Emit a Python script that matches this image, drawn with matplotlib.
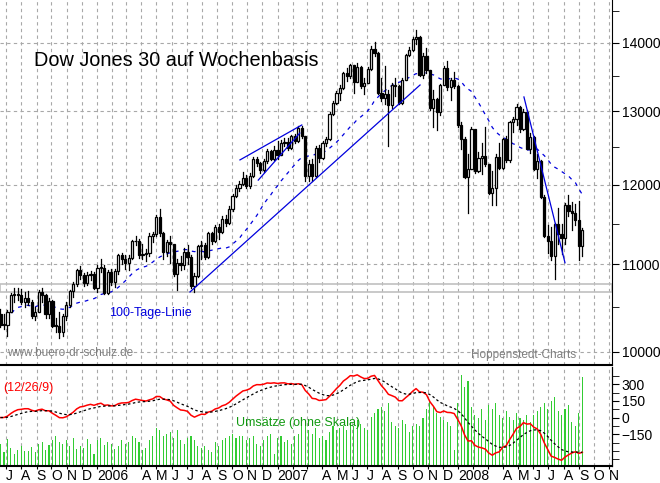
import numpy as np
import pandas as pd
import matplotlib
matplotlib.use('Agg')
import matplotlib.pyplot as plt
import matplotlib.dates as mdates
from matplotlib.ticker import FixedLocator, NullFormatter, FuncFormatter

plt.rcParams['font.family'] = ['Liberation Sans', 'DejaVu Sans']

# weekly DJIA data, week starting 2005-06-20
closes = [10297, 10303, 10449, 10640, 10652, 10641, 10559, 10600, 10559, 10397,
          10447, 10679, 10641, 10420, 10569, 10292, 10287, 10215, 10403, 10530,
          10686, 10766, 10931, 10877, 10779, 10876, 10883, 10718,
          10959, 10960, 10667, 10907, 10794, 10920, 11115, 11062, 11022, 11076,
          11279, 11280, 11109, 11120, 11137, 11347, 11367, 11577, 11380, 11144,
          11278, 11248, 10891, 11015, 10990, 11150, 11091, 10739, 10868, 11220,
          11240, 11089, 11381, 11284, 11464, 11392, 11560, 11508, 11679, 11850,
          11961, 12002, 12090, 11986, 12108, 12342, 12280, 12194, 12307, 12445,
          12343, 12463,
          12398, 12556, 12565, 12487, 12653, 12580, 12767, 12647, 12114, 12276,
          12110, 12481, 12354, 12560, 12612, 12961, 13120, 13265, 13326, 13556,
          13507, 13668, 13424, 13639, 13360, 13409, 13611, 13908, 13851, 13265,
          13182, 13240, 13079, 13379, 13358, 13113, 13442, 13821, 13896, 14066,
          14093, 13522, 13807, 13595, 13042, 13177, 12981, 13372, 13625, 13340,
          13450, 13366,
          12801, 12606, 12099, 12207, 12743, 12182, 12348, 12381, 12266, 11894,
          11951, 12361, 12216, 12609, 12325, 12849, 12891, 13058, 12745, 12986,
          12480, 12638, 12209, 12307, 11843, 11346, 11289, 11100, 11496, 11370,
          11326, 11734, 11659, 11628, 11543, 11220, 11421]
highs = [10480, 10420, 10470, 10660, 10720, 10720, 10710, 10680, 10690, 10580,
         10500, 10700, 10720, 10650, 10600, 10580, 10380, 10450, 10420, 10560,
         10700, 10790, 10940, 10985, 10900, 10910, 10920, 10910,
         10990, 11060, 10990, 10930, 10950, 10950, 11130, 11140, 11110, 11110,
         11300, 11340, 11310, 11250, 11190, 11380, 11400, 11610, 11680, 11400,
         11300, 11340, 11240, 11060, 11100, 11200, 11240, 11110, 10900, 11230,
         11290, 11260, 11400, 11390, 11480, 11500, 11590, 11610, 11720, 11880,
         11990, 12050, 12170, 12120, 12150, 12360, 12360, 12300, 12340, 12470,
         12460, 12510,
         12580, 12590, 12620, 12620, 12670, 12680, 12790, 12790, 12650, 12320,
         12340, 12510, 12530, 12580, 12640, 12980, 13140, 13290, 13370, 13570,
         13620, 13690, 13670, 13700, 13650, 13480, 13640, 13960, 14020, 13860,
         13470, 13660, 13300, 13400, 13480, 13370, 13480, 13830, 13940, 14090,
         14200, 14100, 13850, 13930, 13600, 13300, 13180, 13390, 13650, 13730,
         13480, 13570,
         13370, 12840, 12640, 12400, 12770, 12720, 12430, 12560, 12780, 12270,
         12180, 12400, 12550, 12630, 12650, 12860, 12920, 13100, 13070, 13030,
         13010, 12690, 12650, 12400, 12330, 11860, 11480, 11460, 11510, 11700,
         11500, 11760, 11870, 11780, 11750, 11790, 11450]
lows = [10270, 10250, 10180, 10440, 10560, 10580, 10540, 10500, 10520, 10380,
        10350, 10440, 10560, 10380, 10380, 10270, 10220, 10150, 10180, 10350,
        10500, 10620, 10750, 10830, 10740, 10760, 10810, 10710,
        10680, 10910, 10650, 10650, 10760, 10730, 10890, 11000, 10950, 10930,
        11070, 11230, 11080, 11060, 11040, 11100, 11270, 11350, 11350, 11070,
        11100, 11020, 10860, 10700, 10930, 10950, 11000, 10720, 10680, 10850,
        11070, 11060, 11080, 11250, 11270, 11310, 11380, 11470, 11500, 11660,
        11840, 11920, 11990, 11950, 11960, 12100, 12240, 12150, 12170, 12290,
        12320, 12330,
        12340, 12390, 12520, 12460, 12480, 12560, 12570, 12620, 12050, 12040,
        12040, 12100, 12300, 12340, 12520, 12600, 12940, 13100, 13160, 13310,
        13430, 13480, 13260, 13420, 13330, 13250, 13400, 13600, 13800, 13240,
        13150, 13100, 12520, 13050, 13220, 13100, 13100, 13440, 13800, 13880,
        13980, 13500, 13480, 13550, 13020, 12780, 12740, 12950, 13370, 13300,
        13160, 13330,
        12780, 12480, 12080, 11640, 12200, 12150, 12170, 12140, 12250, 11880,
        11730, 11740, 12200, 12200, 12300, 12300, 12700, 12800, 12700, 12730,
        12470, 12420, 12190, 12090, 11830, 11330, 11140, 11050, 10830, 11250,
        11120, 11250, 11600, 11420, 11480, 11050, 11100]
volumes = [22, 14, 27, 18, 12, 16, 20, 15, 15, 19,
           14, 22, 24, 16, 21, 26, 30, 24, 22, 26,
           20, 28, 17, 20, 18, 27, 22, 12,
           26, 28, 21, 24, 22, 17, 20, 26, 22, 24,
           30, 28, 24, 16, 18, 26, 30, 38, 36, 30,
           32, 34, 28, 36, 26, 22, 28, 30, 26, 20,
           18, 20, 16, 14, 24, 20, 26, 28, 30, 32,
           28, 30, 30, 26, 28, 30, 22, 20, 26, 30,
           32, 12,
           28, 30, 24, 26, 22, 30, 32, 40, 42, 36,
           32, 38, 28, 30, 26, 34, 40, 36, 38, 40,
           36, 44, 40, 46, 42, 38, 36, 50, 54, 58,
           60, 56, 64, 44, 40, 38, 46, 42, 34, 40,
           42, 40, 48, 58, 66, 60, 54, 50, 46, 44,
           40, 16,
           64, 92, 80, 86, 60, 52, 48, 58, 46, 62,
           58, 64, 52, 48, 56, 50, 46, 54, 48, 46,
           52, 44, 52, 56, 60, 64, 58, 66, 70, 56,
           52, 58, 62, 44, 40, 54, 90]

dates = pd.date_range('2005-06-20', periods=len(closes), freq='W-MON')
opens = [10420] + closes[:-1]

s = pd.Series(closes, index=dates)
ma100 = s.rolling(20, min_periods=1).mean()
macd = s.ewm(span=12, adjust=False).mean() - s.ewm(span=26, adjust=False).mean()
signal = macd.ewm(span=9, adjust=False).mean()

fig = plt.figure(figsize=(6.6, 4.83), dpi=100)
ax1 = fig.add_axes([0, 1 - 365 / 483, 612 / 660, 365 / 483])
ax2 = fig.add_axes([0, 17 / 483, 612 / 660, 99 / 483], sharex=ax1)

xmin, xmax = pd.Timestamp('2005-06-19'), pd.Timestamp('2008-11-07')
months = pd.date_range('2005-07-01', '2008-11-01', freq='MS')

# candles
xs = mdates.date2num(dates)
for x, o, h, l, c in zip(xs, opens, highs, lows, closes):
    ax1.plot([x, x], [l, h], color='black', lw=0.9, zorder=3)
    bot, top = min(o, c), max(o, c)
    face = 'white' if c >= o else 'black'
    ax1.bar(x, max(top - bot, 8), width=4.4, bottom=bot, color=face,
            edgecolor='black', linewidth=0.9, zorder=4)

ax1.plot(dates, ma100, color='#0000dd', lw=0.9, ls=(0, (3, 4)), zorder=2)
ax1.axhspan(10680, 10770, facecolor='none', edgecolor='#c0c0c0', lw=1.2, zorder=1)

# trend lines
trend = [('2006-07-08', 10675, '2007-10-16', 13374),
         ('2006-10-17', 12326, '2007-02-19', 12804),
         ('2006-11-23', 12058, '2007-02-15', 12692),
         ('2008-05-13', 13201, '2008-08-04', 11020)]
for d0, v0, d1, v1 in trend:
    ax1.plot([pd.Timestamp(d0), pd.Timestamp(d1)], [v0, v1], color='#0000dd', lw=0.9, zorder=5)

ax1.set_yscale('log')
ax1.set_ylim(9859, 14671)
ax1.set_xlim(xmin, xmax)
ax1.yaxis.tick_right()
major = [10000, 11000, 12000, 13000, 14000]
ax1.yaxis.set_major_locator(FixedLocator(major))
ax1.yaxis.set_major_formatter(FuncFormatter(lambda v, p: f'{v:.0f}'))
ax1.yaxis.set_minor_locator(FixedLocator([10500, 11500, 12500, 13500, 14500]))
ax1.yaxis.set_minor_formatter(NullFormatter())
ax1.tick_params(axis='y', which='both', direction='out', length=5, labelsize=10, pad=2)
for v in major:
    ax1.axhline(v, color='#a8a8a8', lw=0.8, ls=(0, (3, 3)), zorder=0)
for m in months:
    ax1.axvline(m, color='#a8a8a8', lw=0.8, ls=(0, (3, 3)), zorder=0)
    ax2.axvline(m, color='#a8a8a8', lw=0.8, ls=(0, (3, 3)), zorder=0)
ax1.tick_params(axis='x', which='both', bottom=False, labelbottom=False)
for sp in ['left', 'top']:
    ax1.spines[sp].set_visible(False)
ax1.spines['bottom'].set_linewidth(1.5)

ax1.text(0.055, 0.835, 'Dow Jones 30 auf Wochenbasis', fontsize=14.3, transform=ax1.transAxes, va='center')
ax1.text(0.178, 0.142, '100-Tage-Linie', fontsize=9, color='#0000dd', transform=ax1.transAxes, va='center')
ax1.text(0.012, 0.033, 'www.buero-dr-schulz.de', fontsize=8.5, color='#808080', transform=ax1.transAxes, va='center')
ax1.text(0.77, 0.028, 'Hoppenstedt-Charts', fontsize=8.5, color='#808080', transform=ax1.transAxes, va='center')

# lower panel: volume + MACD
ax2.bar(dates, volumes, width=2.2, color='#33cc33', zorder=1)
ax2.set_ylim(0, 100)
ax2.set_yticks([])
ax2.set_xlim(xmin, xmax)
ax3 = ax2.twinx()
ax3.plot(dates, macd, color='red', lw=1.1)
ax3.plot(dates, signal, color='black', lw=0.9, ls=(0, (2, 2)))
ax3.set_ylim(-436, 455)
ax3.set_yticks([300, 150, 0, -150])
ax3.set_yticks([375, 225, 75, -75, -225, -300, -375], minor=True)
ax3.tick_params(axis='y', which='both', direction='out', length=5, labelsize=10, pad=2)
ax3.text(0.005, 0.79, '(12/26/9)', color='red', fontsize=9, transform=ax3.transAxes, va='center')
ax3.text(0.385, 0.43, 'Umsätze (ohne Skala)', color='#119911', fontsize=9, transform=ax3.transAxes, va='center')
for a in (ax2, ax3):
    a.spines['top'].set_visible(False)
    a.spines['left'].set_visible(False)
ax2.spines['bottom'].set_linewidth(1.5)
ax3.spines['bottom'].set_visible(False)

# month letters; the year label takes the room of Jan/Feb/Mar
labels = []
for m in months:
    if m.month == 1:
        labels.append(str(m.year))
    elif m.month in (2, 3):
        labels.append('')
    else:
        labels.append(m.strftime('%b')[0])
ax2.set_xticks(months)
ax2.set_xticklabels(labels, ha='left', fontsize=10)
ax2.tick_params(axis='x', direction='out', length=2, pad=0)

fig.savefig('out.png', dpi=100)
